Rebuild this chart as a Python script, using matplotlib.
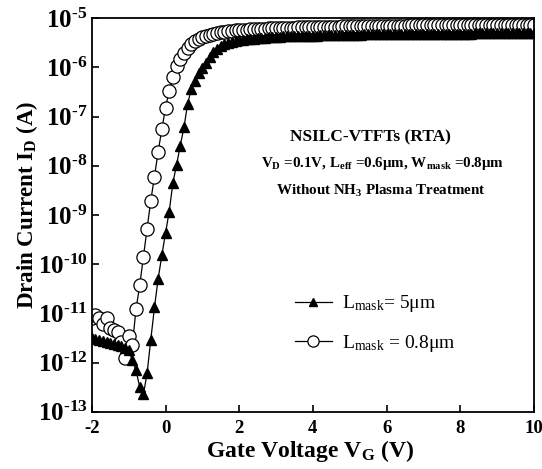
import numpy as np
import matplotlib
matplotlib.use("Agg")
import matplotlib.pyplot as plt
from matplotlib.ticker import FixedLocator, FuncFormatter

plt.rcParams['font.family'] = ['Liberation Serif', 'DejaVu Serif']
plt.rcParams['mathtext.fontset'] = 'custom'
plt.rcParams['mathtext.rm'] = 'Liberation Serif'
plt.rcParams['mathtext.it'] = 'Liberation Serif:italic'
plt.rcParams['mathtext.bf'] = 'Liberation Serif:bold'

# Gate voltage sweep, -2 V to 10 V in 0.1 V steps
vg = np.round(np.arange(-2.0, 10.01, 0.1), 1)

# log10 of drain current (10 points per line)
log_id_5um = [
    -11.50, -11.52, -11.54, -11.56, -11.58, -11.60, -11.62, -11.65, -11.67, -11.70,
    -11.75, -11.95, -12.16, -12.50, -12.65, -12.22, -11.54, -10.88, -10.30, -9.82,
    -9.37, -8.93, -8.35, -7.98, -7.59, -7.22, -6.74, -6.44, -6.27, -6.12,
    -6.02, -5.90, -5.78, -5.68, -5.62, -5.57, -5.53, -5.50, -5.48, -5.46,
    -5.45, -5.44, -5.43, -5.42, -5.42, -5.41, -5.40, -5.40, -5.39, -5.39,
    -5.38, -5.38, -5.37, -5.37, -5.37, -5.36, -5.36, -5.36, -5.35, -5.35,
    -5.35, -5.35, -5.34, -5.34, -5.34, -5.34, -5.34, -5.33, -5.33, -5.33,
    -5.33, -5.33, -5.33, -5.33, -5.32, -5.32, -5.32, -5.32, -5.32, -5.32,
    -5.32, -5.32, -5.32, -5.32, -5.32, -5.31, -5.31, -5.31, -5.31, -5.31,
    -5.31, -5.31, -5.31, -5.31, -5.31, -5.31, -5.31, -5.31, -5.31, -5.31,
    -5.31, -5.31, -5.31, -5.31, -5.30, -5.30, -5.30, -5.30, -5.30, -5.30,
    -5.30, -5.30, -5.30, -5.30, -5.30, -5.30, -5.30, -5.30, -5.30, -5.30,
    -5.30,
]
log_id_08um = [
    -11.10, -11.03, -11.10, -11.22, -11.10, -11.30, -11.34, -11.37, -11.59, -11.90,
    -11.46, -11.65, -10.91, -10.43, -9.85, -9.28, -8.71, -8.22, -7.71, -7.26,
    -6.82, -6.47, -6.20, -5.98, -5.82, -5.70, -5.60, -5.52, -5.46, -5.42,
    -5.38, -5.36, -5.34, -5.32, -5.30, -5.28, -5.27, -5.26, -5.25, -5.24,
    -5.24, -5.23, -5.23, -5.22, -5.22, -5.21, -5.21, -5.21, -5.20, -5.20,
    -5.20, -5.20, -5.19, -5.19, -5.19, -5.19, -5.18, -5.18, -5.18, -5.18,
    -5.18, -5.18, -5.17, -5.17, -5.17, -5.17, -5.17, -5.17, -5.16, -5.16,
    -5.16, -5.16, -5.16, -5.16, -5.16, -5.16, -5.15, -5.15, -5.15, -5.15,
    -5.15, -5.15, -5.15, -5.15, -5.15, -5.15, -5.14, -5.14, -5.14, -5.14,
    -5.14, -5.14, -5.14, -5.14, -5.14, -5.14, -5.14, -5.14, -5.14, -5.14,
    -5.14, -5.14, -5.14, -5.14, -5.13, -5.13, -5.13, -5.13, -5.13, -5.13,
    -5.13, -5.13, -5.13, -5.13, -5.13, -5.13, -5.13, -5.13, -5.13, -5.13,
    -5.13,
]
x_ticks = [-2, 0, 2, 4, 6, 8, 10]
y_decades = [-13, -12, -11, -10, -9, -8, -7, -6, -5]

id_5um = 10.0 ** np.array(log_id_5um)
id_08um = 10.0 ** np.array(log_id_08um)

W, H = 542, 469
fig = plt.figure(figsize=(W / 100, H / 100), dpi=100)
ax = fig.add_axes([0.1694, 0.1222, 0.8158, 0.8388])

ax.plot(vg, id_5um, color='black', lw=0.9, marker='^', ms=7.5,
        mfc='black', mec='black', label=r'L$_\mathrm{mask}$= 5μm', zorder=3)
ax.plot(vg, id_08um, color='black', lw=0.9, marker='o', ms=9.5,
        mfc='white', mec='black', mew=0.9, label=r'L$_\mathrm{mask}$ = 0.8μm', zorder=2)

ax.set_yscale('log')
ax.set_xlim(-2, 10)
ax.set_ylim(1e-13, 1e-5)
ax.set_xticks(x_ticks)
ax.set_xticklabels([str(t) for t in x_ticks], fontsize=13.5, fontweight='bold')
ax.yaxis.set_major_locator(FixedLocator([10.0 ** d for d in y_decades]))
ax.yaxis.set_minor_locator(FixedLocator([]))
# hyphen (U+2010) instead of the wide math minus, as in the original
ax.yaxis.set_major_formatter(FuncFormatter(
    lambda v, p: '$\\mathbf{10^{\u2010%d}}$' % abs(int(round(np.log10(v))))))
ax.tick_params(axis='y', labelsize=18, pad=3)
ax.tick_params(axis='x', pad=6)
ax.tick_params(direction='in', length=5, width=1.2, top=False, right=False)
for s in ax.spines.values():
    s.set_linewidth(1.3)

fig.text(310 / W, 1 - 451 / H, r'Gate Voltage V$_\mathbf{G}$ (V)', fontsize=17,
         fontweight='bold', ha='center', va='center')
fig.text(27 / W, 1 - 205 / H, r'Drain Current I$_\mathbf{D}$ (A)', fontsize=16.5,
         fontweight='bold', ha='center', va='center', rotation=90)

fig.text(370 / W, 1 - 137 / H, 'NSILC-VTFTs (RTA)', fontsize=12.5, fontweight='bold',
         ha='center', va='center')
fig.text(383 / W, 1 - 164 / H,
         r'V$_\mathbf{D}$ =0.1V, L$_\mathbf{eff}$ =0.6μm, W$_\mathbf{mask}$ =0.8μm',
         fontsize=10.8, fontweight='bold', ha='center', va='center')
fig.text(381 / W, 1 - 191 / H, r'Without NH$_\mathbf{3}$ Plasma Treatment',
         fontsize=10.8, fontweight='bold', ha='center', va='center')

ax.legend(loc='center left', bbox_to_anchor=(0.42, 0.224), frameon=False,
          fontsize=14, handlelength=1.9, labelspacing=0.95, handletextpad=0.5,
          markerscale=0.85)

fig.savefig('out.png', dpi=100)
